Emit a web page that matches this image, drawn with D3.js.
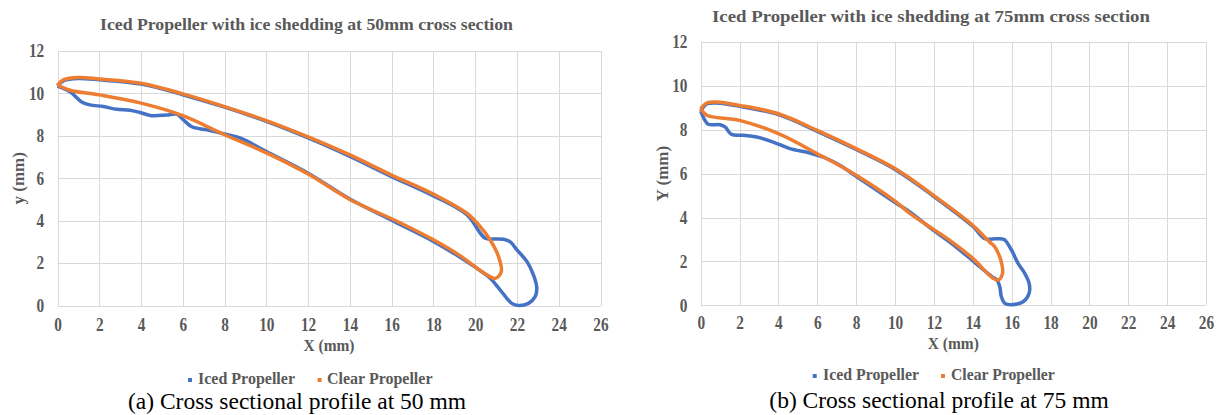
<!DOCTYPE html>
<html lang="en">
<head>
<meta charset="UTF-8">
<title>Iced Propeller with ice shedding</title>
<style>
    body {
        margin: 0;
        background: #fff;
    }
    svg text {
        font-family: "Liberation Serif", "Times New Roman", serif;
    }
    .grid line {
        stroke: #d9d9d9;
        stroke-width: 1px;
        shape-rendering: crispEdges;
    }
    .ticks text {
        font-size: 18px;
        font-weight: bold;
        fill: #595959;
    }
    .chart-title, .axis-title, .legend text {
        font-weight: bold;
        fill: #595959;
    }
    .caption {
        font-size: 23.5px;
        fill: #000;
    }
</style>
</head>
<body>
<svg id="chart" width="1219" height="415"></svg>

<script src="https://d3js.org/d3.v7.min.js"></script>
<script>
    // tick labels, shared by both panels
    const xTickValues = [0, 2, 4, 6, 8, 10, 12, 14, 16, 18, 20, 22, 24, 26];
    const yTickValues = [0, 2, 4, 6, 8, 10, 12];

    const seriesNames = ["Iced Propeller", "Clear Propeller"];
    const seriesColors = ["#4472C4", "#ED7D31"];

    // 50 mm cross section, [x, y] in mm
    const iced50 = [[0,10.35],[0.3,10.6],[1,10.7],[2,10.64],[4,10.44],[6,9.94],[8,9.35],[10,8.68],[12,7.9],
        [14,7.03],[16,6.08],[18,5.17],[19.6,4.28],[20.48,3.17],[21.0,3.14],[21.36,3.12],[21.68,3.0],[22.0,2.62],
        [22.48,2.07],[22.79,1.44],[22.95,0.81],[22.87,0.42],[22.55,0.1],[22.07,0.0],[21.75,0.1],[21.2,0.73],
        [20.72,1.28],[20.3,1.6],[19.2,2.32],[18,3.02],[16.2,3.92],[14,5.02],[12,6.24],[10,7.26],[8.74,7.9],
        [8.1,8.06],[7.15,8.28],[6.43,8.43],[6.03,8.75],[5.71,9.02],[5.23,8.98],[4.5,8.95],[3.95,9.1],[3.47,9.21],
        [2.84,9.25],[2.2,9.38],[1.55,9.46],[1.16,9.6],[0.6,10.08],[0,10.35]];
    const clear50 = [[0,10.4],[0.3,10.65],[1,10.75],[2,10.68],[4,10.48],[6,9.98],[8,9.38],[10,8.72],[12,7.95],
        [14,7.1],[16,6.15],[18,5.25],[19.6,4.35],[20.24,3.72],[20.72,3.09],[21.12,2.3],[21.25,1.6],[20.96,1.28],
        [20.4,1.55],[19.2,2.4],[18,3.1],[16.3,3.95],[14,5.0],[12,6.2],[10,7.2],[8,8.05],[6,8.95],[4,9.54],
        [2,9.93],[0.6,10.15],[0,10.4]];

    // 75 mm cross section
    const iced75 = [[0,8.85],[0.31,9.18],[0.82,9.22],[2,9.07],[4,8.69],[6,7.93],[8,7.1],[10,6.19],[12,4.96],
        [14,3.6],[14.62,3.04],[15.2,3.03],[15.61,3.0],[15.99,2.52],[16.33,1.91],[16.67,1.46],[16.9,1.0],
        [16.9,0.55],[16.59,0.16],[15.99,0.03],[15.65,0.09],[15.47,0.39],[15.39,0.85],[15.22,1.18],[15.04,1.27],
        [13.96,2.06],[12.8,2.89],[12,3.4],[10.76,4.26],[10.08,4.64],[9.05,5.25],[8.05,5.85],[7.16,6.38],
        [6.48,6.69],[5.62,6.94],[4.59,7.14],[3.73,7.44],[2.88,7.67],[2.19,7.75],[1.59,7.79],[1.25,8.13],
        [0.99,8.23],[0.39,8.25],[0.22,8.43],[0,8.85]];
    const clear75 = [[0,8.96],[0.31,9.22],[0.82,9.26],[2,9.11],[4,8.73],[6,7.97],[8,7.14],[10,6.23],[12,5.0],
        [14,3.65],[14.62,3.1],[14.87,2.88],[15.13,2.67],[15.44,2.06],[15.53,1.46],[15.3,1.15],[15.04,1.23],
        [14,2.14],[12.8,2.97],[12,3.45],[10.76,4.19],[10,4.75],[8,5.93],[6,6.91],[4,7.82],[2,8.43],
        [0.31,8.66],[0,8.96]];

    const panels = [
        {
            left: 57.5, right: 600.5, top: 51, bottom: 305.5,
            title: "Iced Propeller with ice shedding at 50mm cross section",
            titleX: 306.5, titleY: 30, titleW: 413,
            yTitle: "y (mm)", yTitleX: 24, xTitleY: 351, xPad: 12.5,
            legendY: 384, markX: [190, 319.6], legendX: [198, 327], legendW: [97, 105.5],
            caption: "(a) Cross sectional profile at 50 mm", captionX: 297, captionY: 408.5,
            series: [iced50, clear50]
        },
        {
            left: 700.7, right: 1206, top: 42, bottom: 305.3,
            title: "Iced Propeller with ice shedding at 75mm cross section",
            titleX: 931, titleY: 22, titleW: 438,
            yTitle: "Y (mm)", yTitleX: 667.5, xTitleY: 349, xPad: 11,
            legendY: 380, markX: [814.7, 943], legendX: [823, 951], legendW: [96, 103.7],
            caption: "(b) Cross sectional profile at 75 mm", captionX: 939, captionY: 408,
            series: [iced75, clear75]
        }
    ];

    const svg = d3.select("#chart");

    function drawPanel(p) {
        const x = d3.scaleLinear().domain([0, 26]).range([p.left, p.right]);
        const y = d3.scaleLinear().domain([0, 12]).range([p.bottom, p.top]);
        const g = svg.append("g");

        // gridlines (the outer ones form the box)
        g.append("g").attr("class", "grid")
            .attr("transform", `translate(0,${p.bottom})`)
            .call(d3.axisBottom(x).tickValues(xTickValues).tickSize(-(p.bottom - p.top)).tickFormat(""))
            .call(a => a.select(".domain").remove());
        g.append("g").attr("class", "grid")
            .attr("transform", `translate(${p.left},0)`)
            .call(d3.axisLeft(y).tickValues(yTickValues).tickSize(-(p.right - p.left)).tickFormat(""))
            .call(a => a.select(".domain").remove());

        // tick labels, squeezed a bit like the original
        g.append("g").attr("class", "ticks")
            .attr("transform", `translate(0,${p.bottom})`)
            .call(d3.axisBottom(x).tickValues(xTickValues).tickSize(0).tickPadding(p.xPad))
            .call(a => a.select(".domain").remove())
            .selectAll("text").attr("transform", "scale(0.85,1)");
        g.append("g").attr("class", "ticks")
            .attr("transform", `translate(${p.left},0)`)
            .call(d3.axisLeft(y).tickValues(yTickValues).tickSize(0).tickPadding(15.6))
            .call(a => a.select(".domain").remove())
            .selectAll("text").attr("transform", "scale(0.85,1)");

        // profiles
        const line = d3.line()
            .x(d => x(d[0]))
            .y(d => y(d[1]))
            .curve(d3.curveCatmullRom.alpha(0.5));
        p.series.forEach((s, i) => {
            g.append("path")
                .datum(s)
                .attr("d", line)
                .attr("fill", "none")
                .attr("stroke", seriesColors[i])
                .attr("stroke-width", 3.5)
                .attr("stroke-linejoin", "round");
        });

        // title
        g.append("text").attr("class", "chart-title")
            .attr("x", p.titleX).attr("y", p.titleY)
            .attr("text-anchor", "middle")
            .attr("font-size", 17)
            .attr("textLength", p.titleW).attr("lengthAdjust", "spacingAndGlyphs")
            .text(p.title);

        // axis titles
        g.append("text").attr("class", "axis-title")
            .attr("x", (p.left + p.right) / 2).attr("y", p.xTitleY)
            .attr("text-anchor", "middle")
            .attr("font-size", 17)
            .attr("textLength", 51).attr("lengthAdjust", "spacingAndGlyphs")
            .text("X (mm)");
        g.append("text").attr("class", "axis-title")
            .attr("transform", `translate(${p.yTitleX},${(p.top + p.bottom) / 2}) rotate(-90)`)
            .attr("text-anchor", "middle")
            .attr("font-size", 17)
            .text(p.yTitle);

        // legend
        const lg = g.append("g").attr("class", "legend");
        seriesNames.forEach((name, i) => {
            lg.append("rect")
                .attr("x", p.markX[i] - 2).attr("y", p.legendY - 6)
                .attr("width", 4).attr("height", 4)
                .attr("fill", seriesColors[i]);
            lg.append("text")
                .attr("x", p.legendX[i]).attr("y", p.legendY)
                .attr("font-size", 16)
                .attr("textLength", p.legendW[i]).attr("lengthAdjust", "spacingAndGlyphs")
                .text(name);
        });

        // figure caption
        svg.append("text").attr("class", "caption")
            .attr("x", p.captionX).attr("y", p.captionY)
            .attr("text-anchor", "middle")
            .text(p.caption);
    }

    panels.forEach(drawPanel);
</script>
</body>
</html>
